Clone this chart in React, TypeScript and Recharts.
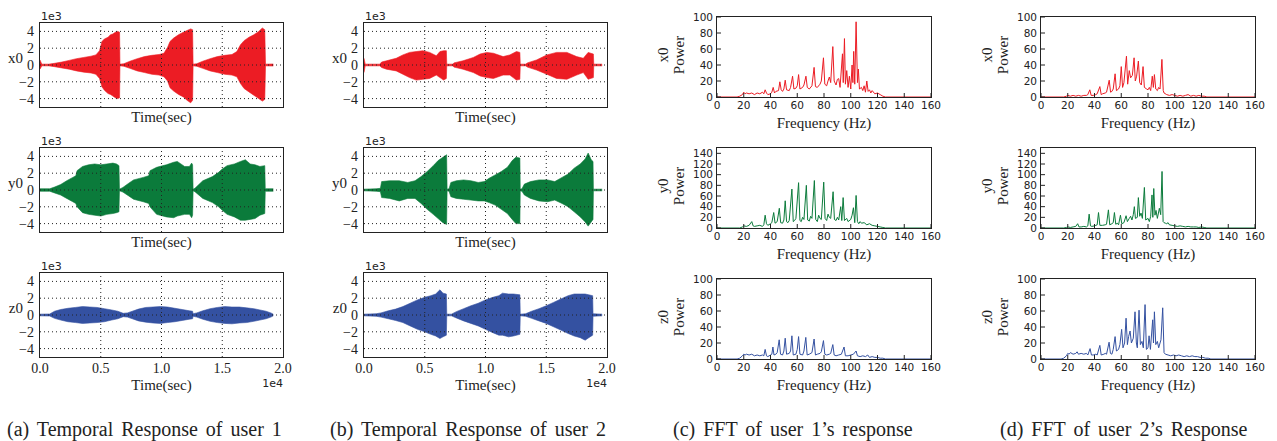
import React from "react";
import { ComposedChart, Area, Line, XAxis, YAxis, ReferenceLine } from "recharts";

const RED = "#ec1c24";
const GREEN = "#0b7b3b";
const BLUE = "#3451a1";

const serif = "'Liberation Serif', 'Times New Roman', serif";
const sans = "'DejaVu Sans', sans-serif";

const timeTicks = [0, 5000, 10000, 15000, 20000];
const ampTicks = [-4, -2, 0, 2, 4];
const freqTicks = [0, 20, 40, 60, 80, 100, 120, 140, 160];
const powTicks100 = [0, 20, 40, 60, 80, 100];
const powTicks140 = [0, 20, 40, 60, 80, 100, 120, 140];

const axisNames = ["x0", "y0", "z0"];
const captions = [
  "(a) Temporal Response of user 1",
  "(b) Temporal Response of user 2",
  "(c) FFT of user 1\u2019s response",
  "(d) FFT of user 2\u2019s Response",
];

// envelopes: [time, low, high], amplitude in 1e3
const user1X0: [number, number, number][] = [
  [0, -0.5, 0.6], [150, -0.1, 0.1], [700, -0.1, 0.1], [1200, -0.2, 0.2], [1800, -0.35, 0.35],
  [2400, -0.5, 0.55], [3000, -0.7, 0.75], [3600, -0.85, 0.9], [4200, -0.95, 1.05], [4600, -1.1, 1.2],
  [4900, -1.6, 1.7], [5100, -2.6, 2.8], [5300, -3.0, 3.1], [5600, -3.4, 3.3], [5800, -3.5, 3.6],
  [6000, -3.7, 3.7], [6200, -3.9, 3.9], [6400, -4.0, 4.0], [6550, -3.9, 3.9], [6580, -0.1, 0.1],
  [6900, -0.15, 0.15], [7400, -0.4, 0.45], [8000, -0.7, 0.75], [8600, -0.9, 1.0], [9200, -1.1, 1.15],
  [9800, -1.2, 1.25], [10200, -1.4, 1.4], [10500, -1.9, 2.1], [10700, -2.7, 2.8], [11000, -3.1, 3.2],
  [11400, -3.5, 3.6], [11800, -3.8, 3.9], [12100, -4.2, 4.1], [12400, -4.5, 4.3], [12560, -4.2, 4.2],
  [12600, -0.1, 0.1], [12900, -0.15, 0.15], [13400, -0.4, 0.45], [14000, -0.7, 0.75], [14600, -0.9, 1.0],
  [15200, -1.1, 1.15], [15800, -1.2, 1.25], [16200, -1.4, 1.6], [16500, -2.2, 2.4], [16800, -2.8, 2.9],
  [17200, -3.2, 3.3], [17600, -3.6, 3.6], [18000, -4.0, 4.0], [18300, -4.3, 4.4], [18500, -4.1, 4.2],
  [18560, -0.1, 0.1], [19200, -0.12, 0.12],
];

const user1Y0: [number, number, number][] = [
  [0, -0.15, 0.15], [800, -0.15, 0.15], [1200, -0.35, 0.35], [1700, -0.6, 0.65], [2200, -1.0, 1.1],
  [2700, -1.4, 1.5], [2950, -1.6, 1.7], [3050, -2.0, 2.3], [3500, -2.7, 2.8], [4000, -2.9, 3.0],
  [4500, -3.0, 3.1], [5000, -3.1, 3.0], [5500, -2.9, 3.1], [6000, -2.8, 3.2], [6300, -2.7, 3.1],
  [6500, -2.6, 2.9], [6540, -0.1, 0.1], [6820, -0.25, 0.3], [7300, -0.7, 0.8], [7700, -1.1, 1.2],
  [8500, -1.4, 1.5], [8950, -1.6, 1.7], [9050, -2.0, 2.3], [9600, -2.9, 2.7], [10400, -3.2, 3.0],
  [11000, -3.3, 3.3], [11300, -3.1, 3.4], [11900, -2.9, 2.8], [12300, -2.9, 2.8], [12480, -3.3, 3.2],
  [12560, -3.0, 3.0], [12600, -0.1, 0.1], [12750, -0.2, 0.2], [13400, -1.0, 1.1], [14200, -1.5, 1.6],
  [14700, -2.0, 2.1], [15000, -2.4, 2.5], [15400, -2.9, 2.9], [16000, -3.2, 3.1], [16500, -3.6, 3.4],
  [16900, -3.6, 3.6], [17300, -3.5, 3.1], [17700, -3.4, 3.0], [18100, -3.0, 2.8], [18500, -2.8, 2.9],
  [18540, -0.15, 0.15], [19200, -0.15, 0.15],
];

const user1Z0: [number, number, number][] = [
  [0, -0.1, 0.1], [800, -0.12, 0.12], [1200, -0.4, 0.45], [1700, -0.6, 0.65], [2300, -0.8, 0.8],
  [2900, -0.9, 0.9], [3500, -1.0, 1.0], [4100, -0.95, 0.95], [4700, -0.9, 0.9], [5300, -0.8, 0.75],
  [5900, -0.6, 0.6], [6400, -0.45, 0.45], [6850, -0.2, 0.2], [7200, -0.25, 0.25], [7600, -0.45, 0.45],
  [8100, -0.7, 0.7], [8700, -0.85, 0.9], [9300, -0.95, 0.95], [9900, -1.0, 1.0], [10500, -0.9, 0.95],
  [11100, -0.8, 0.8], [11700, -0.65, 0.65], [12300, -0.5, 0.5], [12560, -0.45, 0.45], [12600, -0.15, 0.15],
  [12900, -0.25, 0.25], [13400, -0.5, 0.5], [14000, -0.75, 0.75], [14600, -0.9, 0.9], [15200, -1.0, 1.0],
  [15800, -1.05, 0.95], [16400, -0.95, 0.95], [17000, -0.9, 0.85], [17600, -0.75, 0.75], [18100, -0.6, 0.6],
  [18600, -0.45, 0.45], [19000, -0.25, 0.25], [19200, -0.1, 0.1],
];

const user2X0: [number, number, number][] = [
  [0, -0.9, 0.8], [100, -0.1, 0.1], [1300, -0.1, 0.1], [1450, -0.3, 0.35], [1850, -0.5, 0.5],
  [2650, -0.7, 0.8], [3200, -1.1, 1.2], [3750, -1.5, 1.5], [4300, -1.8, 1.6], [4850, -1.7, 1.7],
  [5400, -1.6, 1.5], [5950, -1.2, 1.1], [6250, -1.5, 1.6], [6550, -1.8, 1.7], [6780, -1.6, 1.7],
  [6810, -0.1, 0.1], [7300, -0.1, 0.1], [7400, -0.25, 0.25], [8150, -0.5, 0.5], [9000, -0.9, 0.9],
  [9550, -1.3, 1.3], [10100, -1.5, 1.5], [10650, -1.6, 1.4], [11450, -1.2, 1.0], [12000, -1.2, 1.2],
  [12550, -1.8, 1.6], [12830, -1.7, 1.5], [12860, -0.1, 0.1], [13300, -0.1, 0.1], [13450, -0.25, 0.25],
  [14200, -0.6, 0.6], [15050, -1.1, 1.2], [15850, -1.6, 1.5], [16700, -1.7, 1.5], [17500, -1.2, 1.0],
  [18050, -0.9, 0.8], [18450, -1.7, 1.5], [18880, -1.5, 1.3], [18910, -0.1, 0.1], [19600, -0.1, 0.1],
];

const user2Y0: [number, number, number][] = [
  [0, -0.1, 0.1], [1000, -0.15, 0.15], [1350, -0.2, 0.2], [1450, -0.9, 1.0], [2100, -1.0, 1.1],
  [2900, -1.3, 1.1], [3600, -1.0, 0.9], [4200, -1.0, 1.1], [4700, -1.6, 1.6], [5200, -2.3, 2.2],
  [5700, -2.9, 2.9], [6100, -3.4, 3.5], [6500, -3.9, 3.9], [6800, -4.1, 4.2], [6840, -0.1, 0.1],
  [7000, -0.15, 0.15], [7150, -0.8, 0.9], [7600, -1.0, 1.1], [8200, -1.1, 1.2], [8800, -1.2, 1.1],
  [9400, -1.3, 0.9], [9900, -1.3, 1.0], [10300, -1.5, 1.4], [10800, -1.8, 1.8], [11300, -2.3, 2.2],
  [11800, -2.8, 2.7], [12200, -3.5, 3.5], [12500, -4.0, 3.9], [12830, -4.0, 3.8], [12860, -0.1, 0.1],
  [13000, -0.15, 0.15], [13200, -0.6, 0.7], [13700, -1.0, 1.0], [14400, -1.3, 1.2], [15100, -1.4, 1.2],
  [15700, -1.2, 1.0], [16300, -1.6, 1.5], [16800, -2.0, 1.9], [17300, -2.6, 2.6], [17800, -3.2, 3.1],
  [18200, -3.8, 3.7], [18450, -4.3, 4.4], [18700, -3.8, 3.6], [18850, -3.5, 3.4], [18880, -0.1, 0.1],
  [19600, -0.1, 0.1],
];

const user2Z0: [number, number, number][] = [
  [0, -0.1, 0.1], [1000, -0.15, 0.15], [1400, -0.25, 0.25], [2000, -0.45, 0.5], [2600, -0.65, 0.7],
  [3200, -0.9, 1.0], [3800, -1.3, 1.4], [4400, -1.7, 1.8], [5000, -2.0, 2.1], [5500, -2.3, 2.3],
  [5900, -2.5, 2.5], [6250, -2.8, 3.0], [6500, -2.6, 2.6], [6780, -2.4, 2.5], [6810, -0.1, 0.1],
  [7200, -0.1, 0.1], [7600, -0.35, 0.4], [8200, -0.7, 0.75], [8800, -1.0, 1.1], [9400, -1.3, 1.4],
  [10000, -1.7, 1.8], [10600, -2.1, 2.1], [11100, -2.4, 2.3], [11400, -2.4, 2.6], [11900, -2.6, 2.5],
  [12300, -2.5, 2.5], [12830, -2.3, 2.4], [12860, -0.1, 0.1], [13300, -0.15, 0.15], [13800, -0.4, 0.45],
  [14400, -0.7, 0.75], [15000, -1.0, 1.1], [15600, -1.4, 1.5], [16200, -1.8, 1.9], [16800, -2.2, 2.3],
  [17300, -2.5, 2.5], [17800, -2.7, 2.5], [18200, -3.0, 2.5], [18500, -2.7, 2.4], [18820, -2.4, 2.3],
  [18850, -0.15, 0.15], [19600, -0.1, 0.1],
];

// spectra: [frequency Hz, power]
const fft1X0: [number, number][] = [
  [0, 0], [15, 0], [17, 1], [19, 3], [20, 6], [21, 4], [22, 5], [24, 4], [26, 5], [28, 3], [30, 5], [32, 4],
  [34, 6], [35, 4], [36, 9], [37, 5], [38, 3], [40, 4], [41, 6], [42, 12], [43, 5], [44, 7], [46, 8], [47, 19],
  [48, 9], [49, 7], [50, 10], [51, 21], [52, 9], [54, 8], [55, 12], [56.5, 26], [57.5, 10], [59, 11], [60, 14],
  [61, 28], [62, 10], [64, 12], [65, 15], [66.5, 26], [67.5, 12], [69, 10], [71, 14], [72.6, 37], [73.6, 13],
  [75, 12], [77, 16], [78, 20], [79.6, 49], [80.6, 16], [82, 14], [83, 20], [84, 25], [85, 18], [86.6, 63],
  [87.6, 20], [89, 15], [90, 22], [91, 23], [92, 12], [93.8, 54], [94.4, 18], [95.3, 73], [96, 16], [97, 33],
  [98, 12], [99, 26], [100, 10], [101, 40], [101.6, 18], [102.2, 57], [103, 16], [104, 94], [105, 18],
  [105.7, 35], [106.5, 10], [108, 12], [109, 8], [110, 14], [111, 6], [112, 20], [113, 7], [114, 9], [115, 5],
  [116, 8], [118, 4], [120, 5], [122, 3], [124, 1], [126, 0], [160, 0],
];

const fft1Y0: [number, number][] = [
  [0, 0], [17, 0], [19, 2], [20, 4], [22, 3], [24, 5], [26, 12], [27, 4], [28, 3], [30, 4], [32, 5], [34, 3],
  [35, 6], [36, 24], [37, 8], [38, 5], [40, 8], [41, 10], [42.4, 29], [43.4, 9], [45, 12], [46.6, 37],
  [47.6, 10], [49, 9], [50, 15], [51, 51], [52, 12], [53, 10], [54, 14], [56, 73], [57, 12], [58, 14], [59, 18],
  [61, 85], [62, 14], [63, 12], [64, 20], [65, 16], [66.8, 80], [67.8, 15], [69, 13], [70, 22], [71, 18],
  [72.8, 89], [73.8, 16], [75, 12], [76, 24], [77, 18], [78, 16], [79.8, 86], [80.8, 18], [82, 14], [83, 26],
  [84, 20], [85, 18], [86.8, 68], [87.8, 16], [89, 14], [90, 20], [91, 15], [92.5, 40], [93.3, 14], [94.3, 57],
  [95.3, 14], [97, 18], [98, 12], [100, 16], [101, 24], [102, 38], [103, 10], [104, 61], [105, 12], [106, 8],
  [107, 12], [108, 9], [110, 10], [112, 6], [114, 8], [116, 5], [118, 4], [120, 3], [122, 2], [124, 1],
  [126, 0], [160, 0],
];

const fft1Z0: [number, number][] = [
  [0, 0], [15, 0], [17, 1], [19, 4], [20, 6], [21, 5], [22, 6], [24, 5], [26, 6], [28, 4], [30, 5], [32, 4],
  [34, 5], [35, 4], [36, 12], [37, 4], [38, 3], [40, 5], [41, 6], [41.8, 15], [42.6, 5], [44, 6], [45, 8],
  [46.5, 24], [47.5, 6], [49, 5], [50, 10], [51, 26], [52, 6], [54, 7], [55, 10], [56, 29], [57, 5], [59, 6],
  [60, 12], [61, 28], [62, 6], [64, 5], [65, 10], [66.4, 27], [67.4, 5], [69, 6], [71, 8], [72.6, 25],
  [73.6, 5], [75, 6], [77, 7], [78, 9], [79.6, 23], [80.6, 6], [82, 5], [84, 6], [85, 7], [86.6, 18],
  [87.6, 5], [89, 4], [91, 5], [93, 6], [95, 15], [96, 4], [98, 4], [100, 5], [102, 6], [104, 10], [105, 4],
  [107, 3], [109, 4], [111, 3], [112.7, 5], [114, 2], [116, 3], [118, 2], [120, 2], [122, 1], [124, 1],
  [126, 0], [160, 0],
];

const fft2X0: [number, number][] = [
  [0, 0], [17, 0], [19, 1], [20, 2], [22, 1], [24, 2], [26, 1], [28, 2], [30, 1], [32, 2], [34, 2], [35, 3],
  [36.5, 9], [37.5, 2], [39, 2], [41, 3], [42, 4], [44, 13], [45, 3], [46, 4], [48, 5], [49, 6], [51, 21],
  [52, 6], [53, 7], [54, 10], [55.4, 29], [56.4, 8], [58, 10], [59, 14], [60, 38], [61, 12], [62, 18],
  [63.9, 51], [64.8, 16], [66, 33], [67, 24], [68.3, 27], [69.6, 49], [70.5, 20], [71.5, 26], [72.8, 45],
  [73.8, 18], [75, 15], [76.3, 38], [77.3, 12], [79, 10], [80, 9], [81, 12], [82, 8], [83.2, 26], [84, 12],
  [84.8, 28], [85.8, 10], [87, 8], [88, 12], [89, 10], [90.4, 47], [91.4, 8], [92, 5], [94, 3], [96, 2],
  [98, 3], [100, 2], [102, 1], [104, 2], [106, 1], [108, 2], [110, 3], [112, 1], [114, 2], [116, 1],
  [118, 2], [120, 1], [122, 1], [124, 0], [160, 0],
];

const fft2Y0: [number, number][] = [
  [0, 0], [17, 0], [19, 1], [20, 2], [22, 1], [24, 2], [26, 3], [27.4, 8], [28.4, 2], [30, 2], [32, 3],
  [34, 2], [35, 4], [36, 26], [37, 4], [38, 3], [40, 4], [41, 5], [42, 6], [43, 29], [44, 5], [46, 5],
  [48, 6], [49, 7], [50.4, 34], [51.4, 6], [53, 8], [54, 10], [54.9, 29], [55.9, 7], [57, 9], [58, 6],
  [59.4, 24], [60.4, 8], [62, 10], [63.6, 23], [64.6, 12], [66, 18], [67, 22], [68, 15], [69, 25],
  [69.8, 40], [70.6, 18], [72, 20], [72.8, 57], [73.8, 22], [74.8, 28], [75.8, 18], [77.3, 76], [78.3, 15],
  [80, 18], [81, 12], [82, 22], [83, 62], [83.6, 20], [84.3, 74], [85.2, 24], [86, 33], [87, 18],
  [88.5, 37], [89.5, 25], [90.5, 106], [91.3, 12], [92, 10], [93, 9], [94, 8], [95, 10], [96, 6], [98, 5],
  [100, 4], [102, 3], [104, 4], [106, 3], [108, 2], [110, 3], [112, 2], [114, 2], [116, 2], [118, 1],
  [120, 2], [122, 1], [124, 0], [160, 0],
];

const fft2Z0: [number, number][] = [
  [0, 0], [15, 0], [17, 1], [19, 4], [20, 7], [21, 6], [22, 8], [24, 6], [26, 7], [27, 9], [28, 6], [30, 7],
  [32, 6], [34, 7], [35, 5], [36.7, 13], [37.7, 5], [39, 5], [41, 6], [42, 5], [44, 17], [45, 5], [47, 6],
  [48, 7], [49, 6], [50.9, 21], [51.9, 7], [53, 6], [54, 12], [55.4, 28], [56.4, 10], [58, 12], [59, 18],
  [60.3, 37], [61.3, 14], [62.5, 20], [63.6, 51], [64.6, 18], [65.5, 28], [66.6, 35], [67.6, 20], [69, 26],
  [70.3, 59], [71.3, 20], [72, 14], [73.3, 61], [74.3, 18], [75.5, 22], [76.5, 14], [77.8, 68], [78.8, 12],
  [80, 14], [80.8, 29], [81.8, 12], [83.5, 49], [84.1, 20], [84.8, 59], [85.8, 18], [87, 22], [88, 14],
  [89, 20], [89.7, 24], [91, 64], [92, 8], [93, 6], [95, 5], [97, 4], [99, 5], [101, 4], [103, 5], [105, 4],
  [107, 3], [109, 4], [111, 3], [113, 4], [115, 3], [117, 3], [119, 2], [121, 2], [123, 1], [125, 1],
  [127, 0], [160, 0],
];

const TW = 243;
const TH = 84;
const FW = 214;
const FH = 80;
const timeTops = [23, 148, 273];
const fftTops = [17, 148, 279];

type TxtProps = {
  x: number;
  y: number;
  text: string;
  size?: number;
  font?: string;
  anchor?: "start" | "middle" | "end";
  extra?: React.CSSProperties;
};

const Txt = ({ x, y, text, size = 15, font = serif, anchor = "middle", extra }: TxtProps) => {
  const tx = anchor === "start" ? "0" : anchor === "end" ? "-100%" : "-50%";
  return (
    <div
      style={{
        position: "absolute",
        left: x,
        top: y,
        transform: `translate(${tx}, -50%)`,
        whiteSpace: "nowrap",
        fontFamily: font,
        fontSize: size,
        lineHeight: 1,
        color: "#222",
        ...extra,
      }}
    >
      {text}
    </div>
  );
};

const Frame = ({ left, top, w, h }: { left: number; top: number; w: number; h: number }) => (
  <div
    style={{
      position: "absolute",
      left: left - 0.7,
      top: top - 0.7,
      width: w + 1.4,
      height: h + 1.4,
      border: "1.4px solid #222",
      boxSizing: "border-box",
      pointerEvents: "none",
    }}
  />
);

const fmtAmp = (v: number) => (v < 0 ? `\u2212${Math.abs(v)}` : `${v}`);

const TimePlot = ({ env, color, name, left, top, last }: any) => {
  const rows = env.map(([t, lo, hi]: number[]) => ({ t, band: [lo, hi] }));
  return (
    <>
      <div style={{ position: "absolute", left: left - 45, top: top - 5 }}>
        <ComposedChart width={TW + 60} height={TH + 35} data={rows} margin={{ top: 5, right: 15, bottom: 0, left: 0 }}>
          <XAxis
            type="number"
            dataKey="t"
            domain={[0, 20000]}
            ticks={timeTicks}
            interval={0}
            height={30}
            axisLine={false}
            tickLine={false}
            tickSize={6}
            tickMargin={0}
            tick={last ? { fontFamily: serif, fontSize: 14, fill: "#222" } : false}
            tickFormatter={(v: number) => (v / 1e4).toFixed(1)}
          />
          <YAxis
            type="number"
            domain={[-5, 5]}
            ticks={ampTicks}
            interval={0}
            width={45}
            axisLine={false}
            tickLine={false}
            tickSize={6}
            tickMargin={0}
            tick={{ fontFamily: serif, fontSize: 14, fill: "#222" }}
            tickFormatter={fmtAmp}
          />
          <Area
            dataKey="band"
            type="linear"
            stroke={color}
            strokeWidth={0.6}
            fill={color}
            fillOpacity={1}
            dot={false}
            activeDot={false}
            isAnimationActive={false}
          />
          {ampTicks.map((v) => (
            <ReferenceLine key={`h${v}`} y={v} stroke="#222" strokeDasharray="1 3" />
          ))}
          {timeTicks.slice(1, -1).map((v) => (
            <ReferenceLine key={`v${v}`} x={v} stroke="#222" strokeDasharray="1 3" />
          ))}
        </ComposedChart>
      </div>
      <Frame left={left} top={top} w={TW} h={TH} />
      <Txt x={left - 17} y={top + 35} text={name} anchor="end" />
      <Txt x={left + 1} y={top - 7} text="1e3" size={11} font={sans} anchor="start" />
      <Txt x={left + TW / 2} y={top + TH + (last ? 28 : 10)} text="Time(sec)" />
      {last && <Txt x={left + TW} y={top + TH + 26} text="1e4" size={11} font={sans} anchor="end" />}
    </>
  );
};

const FftPlot = ({ spec, color, name, left, top, ymax, yticks }: any) => {
  const rows = spec.map(([f, p]: number[]) => ({ f, p }));
  const tickFont = { fontFamily: sans, fontSize: 10.5, fill: "#222" };
  return (
    <>
      <div style={{ position: "absolute", left: left - 45, top: top - 5 }}>
        <ComposedChart width={FW + 60} height={FH + 35} data={rows} margin={{ top: 5, right: 15, bottom: 0, left: 0 }}>
          <XAxis
            type="number"
            dataKey="f"
            domain={[0, 160]}
            ticks={freqTicks}
            interval={0}
            height={30}
            axisLine={false}
            stroke="#222"
            tickSize={-4}
            tickMargin={9}
            tick={tickFont}
          />
          <XAxis
            xAxisId="top"
            orientation="top"
            type="number"
            dataKey="f"
            domain={[0, 160]}
            ticks={freqTicks}
            interval={0}
            height={0}
            axisLine={false}
            stroke="#222"
            tickSize={-4}
            tick={false}
            allowDataOverflow
          />
          <YAxis
            type="number"
            domain={[0, ymax]}
            ticks={yticks}
            interval={0}
            width={45}
            axisLine={false}
            stroke="#222"
            tickSize={-4}
            tickMargin={8}
            tick={tickFont}
            allowDataOverflow
          />
          <YAxis
            yAxisId="right"
            orientation="right"
            type="number"
            domain={[0, ymax]}
            ticks={yticks}
            interval={0}
            width={0}
            axisLine={false}
            stroke="#222"
            tickSize={-4}
            tick={false}
            allowDataOverflow
          />
          <Line
            dataKey="p"
            type="linear"
            stroke={color}
            strokeWidth={1}
            dot={false}
            activeDot={false}
            isAnimationActive={false}
          />
        </ComposedChart>
      </div>
      <Frame left={left} top={top} w={FW} h={FH} />
      <div
        style={{
          position: "absolute",
          left: left - 46,
          top: top + FH / 2 - 2,
          transform: "translate(-50%, -50%) rotate(-90deg)",
          fontFamily: serif,
          fontSize: 15,
          lineHeight: "16px",
          textAlign: "center",
          color: "#222",
          whiteSpace: "nowrap",
        }}
      >
        {name}
        <br />
        Power
      </div>
      <Txt x={left + FW / 2} y={top + FH + 26} text="Frequency (Hz)" />
    </>
  );
};

const colors = [RED, GREEN, BLUE];
const user1Env = [user1X0, user1Y0, user1Z0];
const user2Env = [user2X0, user2Y0, user2Z0];
const user1Fft = [fft1X0, fft1Y0, fft1Z0];
const user2Fft = [fft2X0, fft2Y0, fft2Z0];
const fftMax = [100, 150, 100];
const fftTicks = [powTicks100, powTicks140, powTicks100];
const captionLeft = [7, 330, 673, 1000];

const App = () => (
  <div style={{ position: "absolute", left: 0, top: 0, width: 1277, height: 441, background: "#fff", overflow: "hidden" }}>
    {[0, 1, 2].map((i) => (
      <React.Fragment key={i}>
        <TimePlot env={user1Env[i]} color={colors[i]} name={axisNames[i]} left={40} top={timeTops[i]} last={i === 2} />
        <TimePlot env={user2Env[i]} color={colors[i]} name={axisNames[i]} left={364} top={timeTops[i]} last={i === 2} />
        <FftPlot spec={user1Fft[i]} color={colors[i]} name={axisNames[i]} left={717} top={fftTops[i]} ymax={fftMax[i]} yticks={fftTicks[i]} />
        <FftPlot spec={user2Fft[i]} color={colors[i]} name={axisNames[i]} left={1041} top={fftTops[i]} ymax={fftMax[i]} yticks={fftTicks[i]} />
      </React.Fragment>
    ))}
    {captions.map((c, i) => (
      <Txt key={c} x={captionLeft[i]} y={429} text={c} size={20} anchor="start" extra={{ wordSpacing: 3 }} />
    ))}
  </div>
);

export default App;
